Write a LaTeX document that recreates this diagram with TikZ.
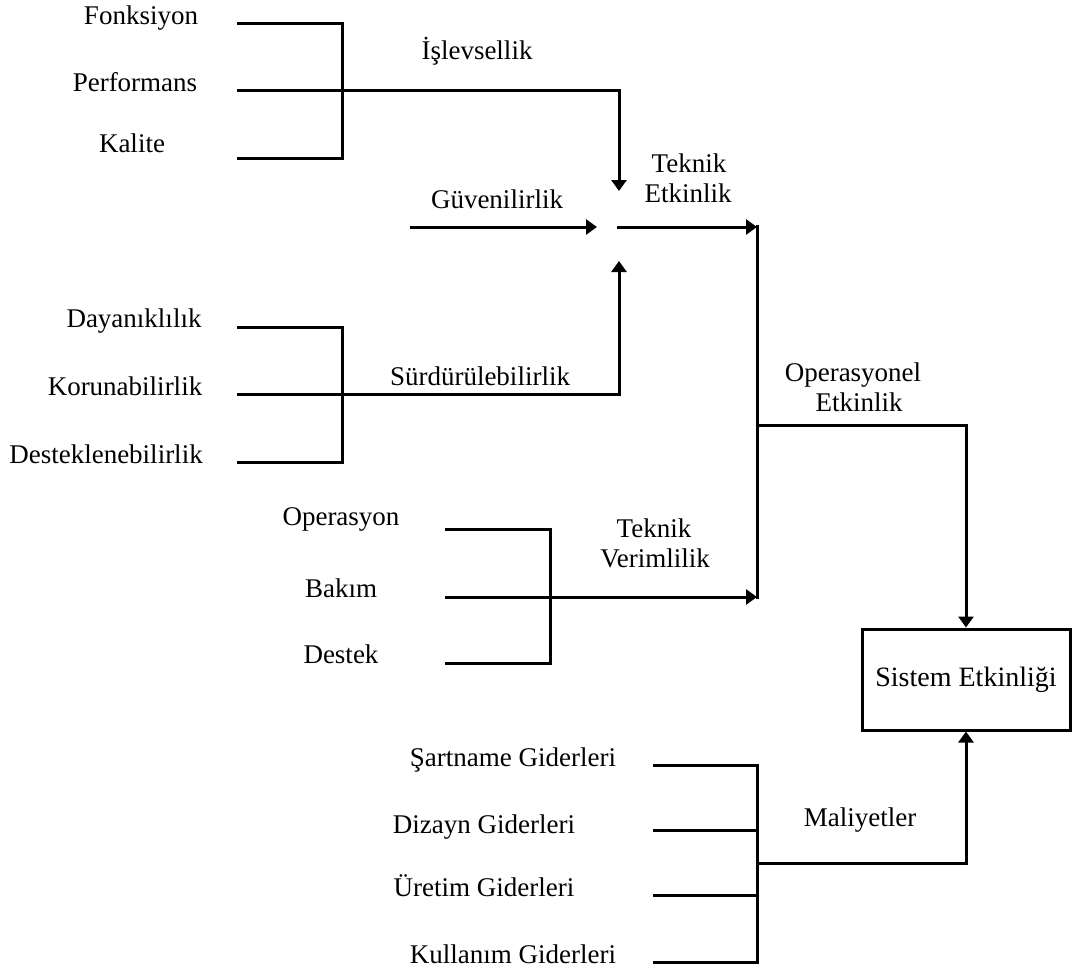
\documentclass[tikz,border=0pt]{standalone}
\usepackage{fontspec}
\setmainfont{Liberation Serif}
\usetikzlibrary{arrows.meta}
\begin{document}
\begin{tikzpicture}[x=1pt,y=-1pt,
  wire/.style={line width=3pt},
  flow/.style={wire,-{Triangle[length=11pt,width=15pt]}},
  lbl/.style={anchor=base,inner sep=0pt,font=\fontsize{27}{32}\selectfont},
  sysbox/.style={draw,line width=3pt,minimum width=208pt,minimum height=101pt,
    inner sep=0pt,font=\fontsize{28}{33}\selectfont}]
\useasboundingbox (0,0) rectangle (1072,974);

% ---- labels ----
\node[lbl] (fon) at (141,25) {Fonksiyon};
\node[lbl] (per) at (135,92) {Performans};
\node[lbl] (kal) at (132,153) {Kalite};
\node[lbl] (isl) at (477,60) {İşlevsellik};
\node[lbl] (tek1) at (689,172) {Teknik};
\node[lbl] (tek2) at (688,202) {Etkinlik};
\node[lbl] (guv) at (497,208) {Güvenilirlik};
\node[lbl] (day) at (134,327) {Dayanıklılık};
\node[lbl] (kor) at (125,395) {Korunabilirlik};
\node[lbl] (des) at (106,463) {Desteklenebilirlik};
\node[lbl] (sur) at (480,385) {Sürdürülebilirlik};
\node[lbl] (ope1) at (853,381) {Operasyonel};
\node[lbl] (ope2) at (859,411) {Etkinlik};
\node[lbl] (opr) at (341,525) {Operasyon};
\node[lbl] (bak) at (341,597) {Bakım};
\node[lbl] (dst) at (341,663) {Destek};
\node[lbl] (ver1) at (654,537) {Teknik};
\node[lbl] (ver2) at (655,567) {Verimlilik};
\node[lbl] (sar) at (513,766) {Şartname Giderleri};
\node[lbl] (diz) at (484,833) {Dizayn Giderleri};
\node[lbl] (ure) at (484,896) {Üretim Giderleri};
\node[lbl] (kul) at (513,963) {Kullanım Giderleri};
\node[lbl] (mal) at (860,826) {Maliyetler};

% ---- result box ----
\node[sysbox] (sys) at (966,679.5) {Sistem Etkinliği};

% ---- coordinates ----
\coordinate (a1) at (237,24);  \coordinate (b1) at (342,24);
\coordinate (a2) at (237,91);  \coordinate (b2) at (342,91);
\coordinate (a3) at (237,158); \coordinate (b3) at (342,158);
\coordinate (isC) at (619,91); \coordinate (isT) at (619,191);

\coordinate (guS) at (410,227); \coordinate (guT) at (597,227);
\coordinate (teS) at (617,227); \coordinate (teT) at (757,227);

\coordinate (c1) at (237,327); \coordinate (d1) at (342,327);
\coordinate (c2) at (237,394); \coordinate (d2) at (342,394);
\coordinate (c3) at (237,462); \coordinate (d3) at (342,462);
\coordinate (suC) at (619,394); \coordinate (suT) at (619,261);

\coordinate (e1) at (445,529); \coordinate (f1) at (550,529);
\coordinate (e2) at (445,597); \coordinate (f2) at (550,597);
\coordinate (e3) at (445,663); \coordinate (f3) at (550,663);
\coordinate (tvT) at (757,597);

\coordinate (vTop) at (757,225); \coordinate (vBot) at (757,599);
\coordinate (opS) at (757,425); \coordinate (opC) at (966,425);

\coordinate (g1) at (653,765); \coordinate (h1) at (757,765);
\coordinate (g2) at (653,830); \coordinate (h2) at (757,830);
\coordinate (g3) at (653,895); \coordinate (h3) at (757,895);
\coordinate (g4) at (653,962); \coordinate (h4) at (757,962);
\coordinate (maS) at (757,863); \coordinate (maC) at (966,863);

% ---- İşlevsellik group ----
\draw[wire] (a1) -- (b1) -- (b3) -- (a3);
\draw[flow] (a2) -- (isC) -- (isT);

% ---- Güvenilirlik and Teknik Etkinlik ----
\draw[flow] (guS) -- (guT);
\draw[flow] (teS) -- (teT);

% ---- Sürdürülebilirlik group ----
\draw[wire] (c1) -- (d1) -- (d3) -- (c3);
\draw[flow] (c2) -- (suC) -- (suT);

% ---- Teknik Verimlilik group ----
\draw[wire] (e1) -- (f1) -- (f3) -- (e3);
\draw[flow] (e2) -- (tvT);

% ---- Operasyonel Etkinlik ----
\draw[wire] (vTop) -- (vBot);
\draw[flow] (opS) -- (opC) -- (sys.north);

% ---- Maliyetler group ----
\draw[wire] (g1) -- (h1) -- (h4) -- (g4);
\draw[wire] (g2) -- (h2);
\draw[wire] (g3) -- (h3);
\draw[flow] (maS) -- (maC) -- (sys.south);
\end{tikzpicture}
\end{document}
